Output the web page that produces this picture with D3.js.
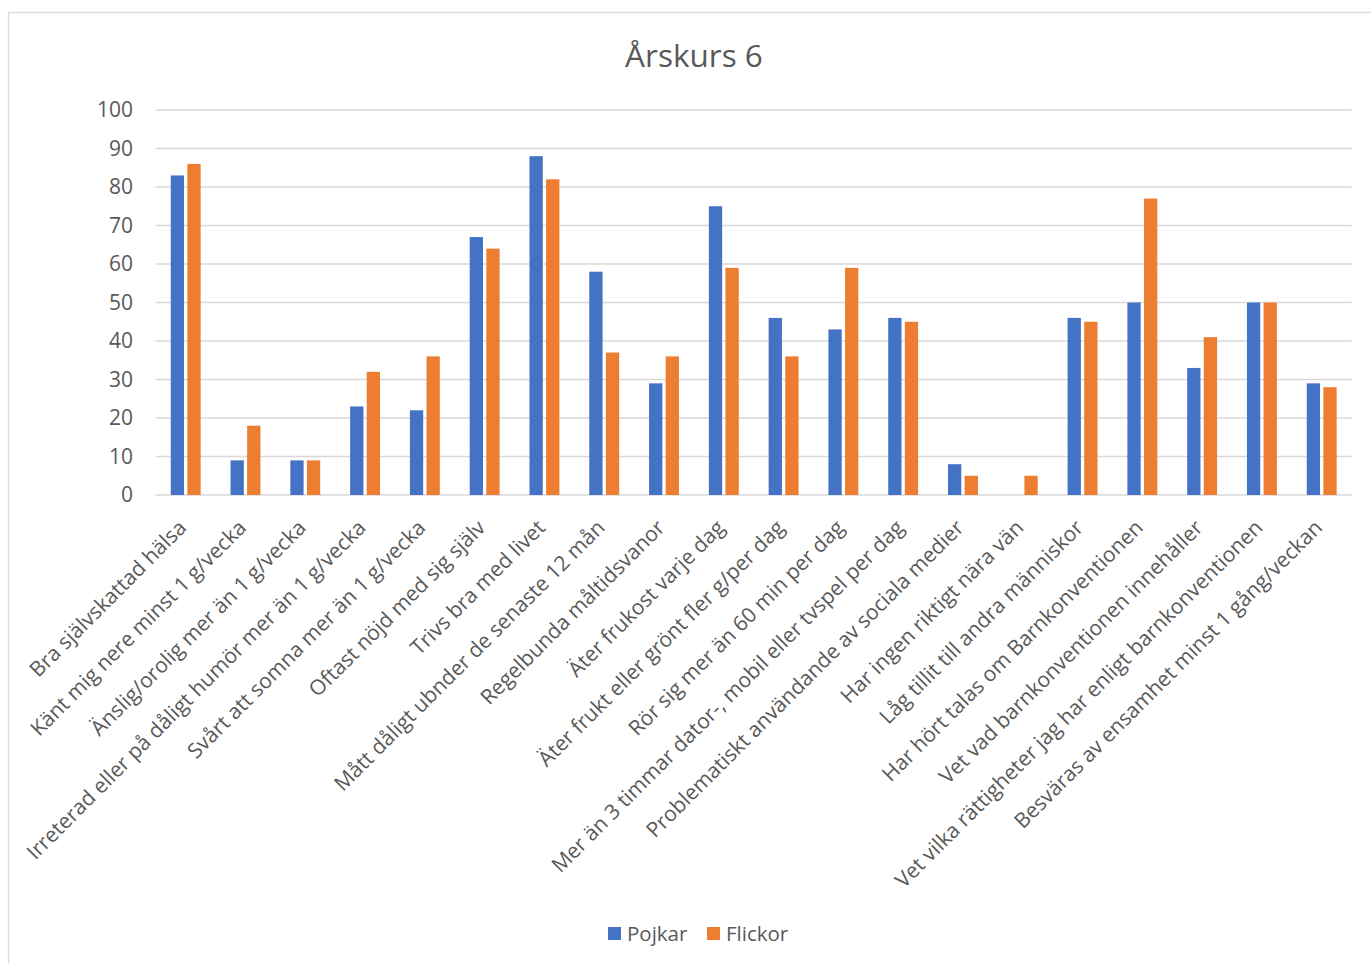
<!DOCTYPE html>
<html>
<head>
<meta charset="utf-8">
<script src="https://cdn.jsdelivr.net/npm/d3@7"></script>
<style>
  body { margin: 0; background: #fff; }
  text { font-family: "Open Sans", sans-serif; fill: #595959; }
</style>
</head>
<body>
<div id="chart"></div>
<script>
var categories = [
  "Bra självskattad hälsa",
  "Känt mig nere minst 1 g/vecka",
  "Änslig/orolig mer än 1 g/vecka",
  "Irreterad eller på dåligt humör mer än 1 g/vecka",
  "Svårt att somna mer än 1 g/vecka",
  "Oftast nöjd med sig själv",
  "Trivs bra med livet",
  "Mått dåligt ubnder de senaste 12 mån",
  "Regelbunda måltidsvanor",
  "Äter frukost varje dag",
  "Äter frukt eller grönt fler g/per dag",
  "Rör sig mer än 60 min per dag",
  "Mer än 3 timmar dator-, mobil eller tvspel per dag",
  "Problematiskt användande av sociala medier",
  "Har ingen riktigt nära vän",
  "Låg tillit till andra människor",
  "Har hört talas om Barnkonventionen",
  "Vet vad barnkonventionen innehåller",
  "Vet vilka rättigheter jag har enligt barnkonventionen",
  "Besväras av ensamhet minst 1 gång/veckan"
];
var series = ["Pojkar", "Flickor"];
var pojkar  = [83, 9, 9, 23, 22, 67, 88, 58, 29, 75, 46, 43, 46, 8, 0, 46, 50, 33, 50, 29];
var flickor = [86, 18, 9, 32, 36, 64, 82, 37, 36, 59, 36, 59, 45, 5, 5, 45, 77, 41, 50, 28];
var yTicks = [0, 10, 20, 30, 40, 50, 60, 70, 80, 90, 100];
var colors = ["#4472C4", "#ED7D31"];

var values = [pojkar, flickor];

var svg = d3.select("#chart").append("svg")
    .attr("width", 1371)
    .attr("height", 963);

// chart frame
svg.append("rect")
    .attr("x", 8.5).attr("y", 12.5)
    .attr("width", 1380).attr("height", 970)
    .attr("fill", "#fff")
    .attr("stroke", "#d9d9d9")
    .attr("stroke-width", 1.3);

var x = d3.scaleBand().domain(categories).range([155.8, 1351.6]);
var x1 = d3.scaleBand().domain(series).range([0, x.bandwidth()])
    .paddingInner(0.2).paddingOuter(0.9);
var y = d3.scaleLinear().domain([0, 100]).range([495, 110]);

// gridlines
svg.append("g").selectAll("line")
    .data(yTicks)
    .enter().append("line")
        .attr("x1", 155.8).attr("x2", 1351.6)
        .attr("y1", function(d) { return y(d); })
        .attr("y2", function(d) { return y(d); })
        .attr("stroke", "#d9d9d9")
        .attr("stroke-width", 1.5);

// y tick labels
svg.append("g").selectAll("text")
    .data(yTicks)
    .enter().append("text")
        .attr("x", 133)
        .attr("y", function(d) { return y(d); })
        .attr("dy", "0.35em")
        .attr("text-anchor", "end")
        .style("font-size", "21px")
        .text(function(d) { return d; });

// bars
var group = svg.append("g").selectAll(".cat")
    .data(categories)
    .enter().append("g")
        .attr("class", "cat")
        .attr("transform", function(d) { return "translate(" + x(d) + ",0)"; });

group.selectAll("rect")
    .data(function(d, i) {
        return series.map(function(s, j) { return {s: s, v: values[j][i], c: colors[j]}; });
    })
    .enter().append("rect")
        .attr("x", function(d) { return x1(d.s); })
        .attr("width", x1.bandwidth())
        .attr("y", function(d) { return y(d.v); })
        .attr("height", function(d) { return y(0) - y(d.v); })
        .attr("fill", function(d) { return d.c; });

// category labels
svg.append("g").selectAll("text")
    .data(categories)
    .enter().append("text")
        .attr("transform", function(d) {
            return "translate(" + (x(d) + x.bandwidth() / 2 + 2) + ",529) rotate(-45)";
        })
        .attr("text-anchor", "end")
        .style("font-size", "21px")
        .text(function(d) { return d; });

// title
svg.append("text")
    .attr("x", 694).attr("y", 67)
    .attr("text-anchor", "middle")
    .style("font-size", "31.5px")
    .text("Årskurs 6");

// legend
var legend = svg.append("g").selectAll(".leg")
    .data(series)
    .enter().append("g")
        .attr("class", "leg")
        .attr("transform", function(d, i) { return "translate(" + (608 + i * 99) + ",927)"; });

legend.append("rect")
    .attr("width", 13).attr("height", 13)
    .attr("fill", function(d, i) { return colors[i]; });

legend.append("text")
    .attr("x", 19).attr("y", 7)
    .attr("dy", "0.35em")
    .style("font-size", "20.5px")
    .text(function(d) { return d; });
</script>
</body>
</html>
